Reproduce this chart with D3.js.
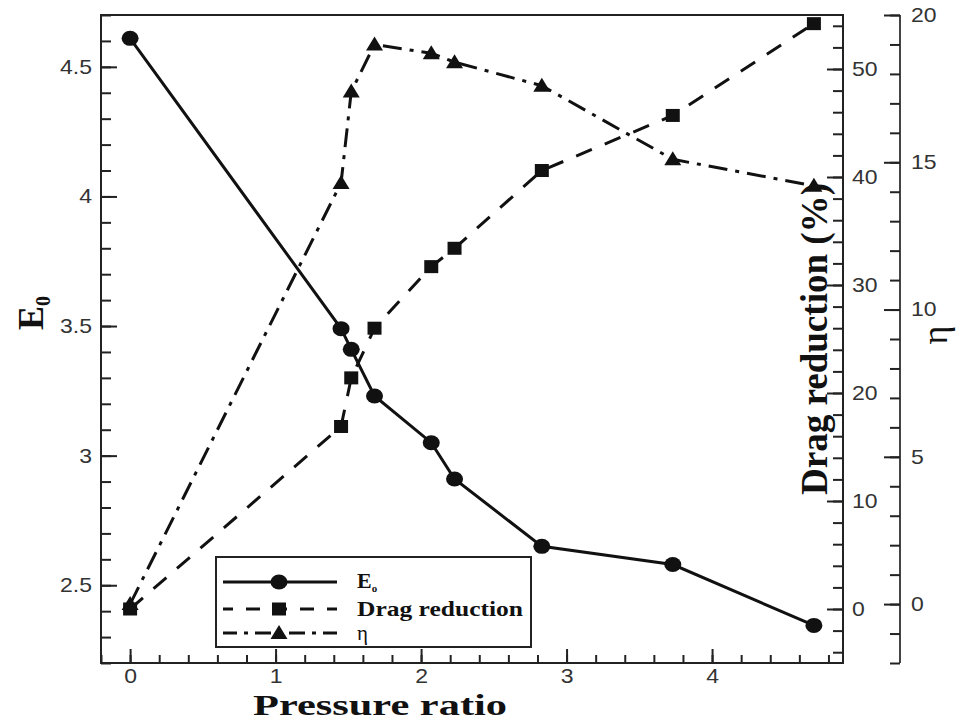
<!DOCTYPE html>
<html>
<head>
<meta charset="utf-8">
<script src="https://cdn.jsdelivr.net/npm/d3@7/dist/d3.min.js"></script>
<style>
  html, body { margin: 0; padding: 0; background: #fff; }
  svg { display: block; }
</style>
</head>
<body>
<svg id="chart" width="957" height="722"></svg>
<script>
// ---- data ----
const pressureRatio = [0, 1.45, 1.52, 1.68, 2.07, 2.23, 2.83, 3.73, 4.70];
const E0 = [4.61, 3.49, 3.41, 3.23, 3.05, 2.91, 2.65, 2.58, 2.345];
const dragReduction = [0, 16.9, 21.4, 26.0, 31.7, 33.4, 40.6, 45.7, 54.2];
const eta = [0, 14.3, 17.4, 19.0, 18.7, 18.4, 17.6, 15.1, 14.2];

const xTicks = [0, 1, 2, 3, 4];
const e0Ticks = [2.5, 3, 3.5, 4, 4.5];
const dragTicks = [0, 10, 20, 30, 40, 50];
const etaTicks = [0, 5, 10, 15, 20];

const legendLabels = ["E", "Drag reduction", "η"];

// ---- layout ----
const L = 101, R = 843, T = 15, B = 663, ETA_X = 900;
const svg = d3.select("#chart");

const x = d3.scaleLinear().domain([-0.2, 4.9]).range([L, R]);
const yE = d3.scaleLinear().domain([2.2, 4.7]).range([B, T]);
const yD = d3.scaleLinear().domain([-5, 55]).range([B, T]);
const yH = d3.scaleLinear().domain([-2, 20]).range([B, T]);

const ink = "#111";
const tickFont = "'Liberation Sans', Arial, sans-serif";
const serif = "'Liberation Serif', 'Times New Roman', serif";
const SX = 1.15;

function styleAxis(g) {
  g.selectAll(".domain").remove();
  g.selectAll(".tick line").attr("stroke", "#222").attr("stroke-width", 2);
  g.selectAll(".tick text")
    .style("font-family", tickFont).style("font-size", "20px").attr("fill", "#333")
    .attr("transform", `scale(${SX},1)`)
    .attr("x", function() { const v = +d3.select(this).attr("x") || 0; return v / SX; });
}

function range(a, b, s) { const out = []; for (let v = a; v <= b + 1e-9; v += s) out.push(+v.toFixed(6)); return out; }

// bottom axis
svg.append("g").attr("transform", `translate(0,${B})`)
  .call(d3.axisBottom(x).tickValues(range(-0.2, 4.8, 0.2)).tickSize(-8).tickFormat(""))
  .call(styleAxis);
svg.append("g").attr("transform", `translate(0,${B})`)
  .call(d3.axisBottom(x).tickValues(xTicks).tickSize(-14).tickPadding(6).tickFormat(d3.format("d")))
  .call(styleAxis);

// left axis
svg.append("g").attr("transform", `translate(${L},0)`)
  .call(d3.axisLeft(yE).tickValues(range(2.2, 4.7, 0.1)).tickSize(-10).tickFormat(""))
  .call(styleAxis);
svg.append("g").attr("transform", `translate(${L},0)`)
  .call(d3.axisLeft(yE).tickValues(e0Ticks).tickSize(-16).tickPadding(9).tickFormat(d => String(d)))
  .call(styleAxis);

// drag reduction axis (right frame)
svg.append("g").attr("transform", `translate(${R},0)`)
  .call(d3.axisRight(yD).tickValues(range(-4, 54, 2)).tickSize(-10).tickFormat(""))
  .call(styleAxis);
svg.append("g").attr("transform", `translate(${R},0)`)
  .call(d3.axisRight(yD).tickValues(dragTicks).tickSize(-16).tickPadding(9).tickFormat(d3.format("d")))
  .call(styleAxis);

// eta axis (detached)
svg.append("line").attr("x1", ETA_X).attr("x2", ETA_X).attr("y1", T).attr("y2", B)
  .attr("stroke", "#444").attr("stroke-width", 2);
svg.append("g").attr("transform", `translate(${ETA_X},0)`)
  .call(d3.axisRight(yH).tickValues(range(-2, 20, 1)).tickSize(-10).tickFormat(""))
  .call(styleAxis);
svg.append("g").attr("transform", `translate(${ETA_X},0)`)
  .call(d3.axisRight(yH).tickValues(etaTicks).tickSize(-16).tickPadding(11).tickFormat(d3.format("d")))
  .call(styleAxis);

// frame
svg.append("rect").attr("x", L).attr("y", T).attr("width", R - L).attr("height", B - T)
  .attr("fill", "none").attr("stroke", "#222").attr("stroke-width", 2);

// ---- series ----
const idx = d3.range(pressureRatio.length);
const lineE = d3.line().x(i => x(pressureRatio[i])).y(i => yE(E0[i]));
const lineD = d3.line().x(i => x(pressureRatio[i])).y(i => yD(dragReduction[i]));
const lineH = d3.line().x(i => x(pressureRatio[i])).y(i => yH(eta[i]));

const dashD = "17,14";
const dashH = "19,8,4,8";

svg.append("path").attr("d", lineH(idx)).attr("fill", "none").attr("stroke", ink)
  .attr("stroke-width", 3).attr("stroke-dasharray", dashH);
svg.append("path").attr("d", lineD(idx)).attr("fill", "none").attr("stroke", ink)
  .attr("stroke-width", 3).attr("stroke-dasharray", dashD);
svg.append("path").attr("d", lineE(idx)).attr("fill", "none").attr("stroke", ink)
  .attr("stroke-width", 3);

const tri = (cx, cy) => `M${cx},${cy - 8} L${cx + 8.5},${cy + 6} L${cx - 8.5},${cy + 6} Z`;

function circleMark(sel, cx, cy) {
  sel.append("ellipse").attr("cx", cx).attr("cy", cy).attr("rx", 8.5).attr("ry", 7.5).attr("fill", ink);
}
function squareMark(sel, cx, cy) {
  sel.append("rect").attr("x", cx - 7).attr("y", cy - 6.5).attr("width", 14).attr("height", 13).attr("fill", ink);
}
function triMark(sel, cx, cy) {
  sel.append("path").attr("d", tri(cx, cy)).attr("fill", ink);
}

const gm = svg.append("g");
idx.forEach(i => {
  triMark(gm, x(pressureRatio[i]), yH(eta[i]));
  squareMark(gm, x(pressureRatio[i]), yD(dragReduction[i]));
  circleMark(gm, x(pressureRatio[i]), yE(E0[i]));
});

// ---- legend ----
const lg = svg.append("g");
lg.append("rect").attr("x", 216).attr("y", 557).attr("width", 315).attr("height", 90)
  .attr("fill", "#fff").attr("stroke", "#222").attr("stroke-width", 2);
const rowsY = [582, 609, 633];
const dashes = [null, dashD, dashH];
const marks = [circleMark, squareMark, triMark];
rowsY.forEach((ry, k) => {
  const ln = lg.append("line").attr("x1", 223).attr("x2", 337).attr("y1", ry).attr("y2", ry)
    .attr("stroke", ink).attr("stroke-width", 3);
  if (dashes[k]) ln.attr("stroke-dasharray", k === 1 ? "14,13" : "16,7,4,7").attr("stroke-dashoffset", k === 1 ? 4 : 2);
  marks[k](lg, 279, ry);
});
// E_o
const t0 = lg.append("text").attr("x", 357).attr("y", rowsY[0] + 6)
  .style("font-family", serif).style("font-weight", "bold").style("font-size", "22px").attr("fill", ink);
t0.append("tspan").text(legendLabels[0]);
t0.append("tspan").style("font-size", "11px").attr("dy", 4).text("o");
lg.append("text").attr("x", 357).attr("y", rowsY[1] + 7)
  .style("font-family", serif).style("font-weight", "bold").style("font-size", "22px").attr("fill", ink)
  .attr("textLength", 166).attr("lengthAdjust", "spacingAndGlyphs").text(legendLabels[1]);
lg.append("text").attr("x", 357).attr("y", rowsY[2] + 7)
  .style("font-family", serif).style("font-size", "21px").attr("fill", ink).text(legendLabels[2]);

// ---- titles ----
svg.append("text").attr("x", (253 + 507) / 2).attr("y", 715).attr("text-anchor", "middle")
  .style("font-family", serif).style("font-weight", "bold").style("font-size", "30px").attr("fill", ink)
  .attr("textLength", 254).attr("lengthAdjust", "spacingAndGlyphs").text("Pressure ratio");

const te = svg.append("text").attr("transform", "translate(43,313) rotate(-90)").attr("text-anchor", "middle")
  .style("font-family", serif).style("font-weight", "bold").style("font-size", "36px").attr("fill", ink);
te.append("tspan").text("E");
te.append("tspan").style("font-size", "20px").attr("dy", 7).text("0");

svg.append("text").attr("transform", "translate(827,339) rotate(-90)").attr("text-anchor", "middle")
  .style("font-family", serif).style("font-weight", "bold").style("font-size", "38px").attr("fill", ink)
  .attr("textLength", 312).attr("lengthAdjust", "spacingAndGlyphs").text("Drag reduction (%)");

svg.append("text").attr("transform", "translate(947,335) rotate(-90)").attr("text-anchor", "middle")
  .style("font-family", serif).style("font-size", "36px").attr("fill", ink).text("η");
</script>
</body>
</html>
